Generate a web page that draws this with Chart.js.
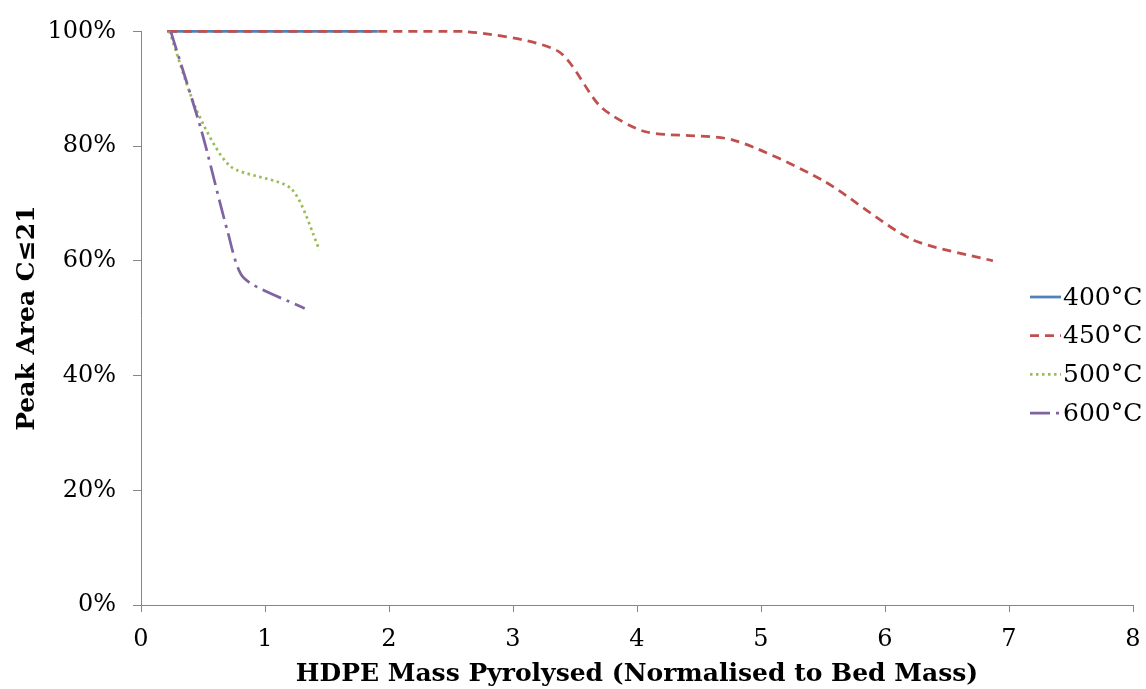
<!DOCTYPE html>
<html>
<head>
<meta charset="utf-8">
<script src="https://cdn.jsdelivr.net/npm/chart.js@4.4.1/dist/chart.umd.min.js"></script>
<style>
html,body{margin:0;padding:0;background:#fff;}
#wrap{width:1146px;height:689px;position:relative;}
</style>
</head>
<body>
<div id="wrap"><canvas id="c" width="1146" height="689"></canvas></div>
<script>
const seriesLabels = ['400°C', '450°C', '500°C', '600°C'];
const x400 = [0.21, 1.91];
const y400 = [1.00, 1.00];
const x450 = [0.22, 1.4, 2.6, 3.36, 3.71, 4.07, 4.77, 5.5, 6.21, 6.87];
const y450 = [1.00, 1.00, 1.00, 0.966, 0.868, 0.825, 0.811, 0.74, 0.638, 0.60];
const x500 = [0.23, 0.45, 0.72, 1.21, 1.44];
const y500 = [1.00, 0.862, 0.765, 0.726, 0.619];
const x600 = [0.24, 0.49, 0.70, 0.83, 1.32];
const y600 = [1.00, 0.825, 0.65, 0.57, 0.517];
const xTicks = [0, 1, 2, 3, 4, 5, 6, 7, 8];
const yTicks = [0, 0.2, 0.4, 0.6, 0.8, 1.0];

const colors = ['#4F81BD', '#C0504D', '#9BBB59', '#8064A2'];
const dashes = [[], [9, 6], [2.5, 3.5], [20, 6, 3, 6]];
const xs = [x400, x450, x500, x600];
const ys = [y400, y450, y500, y600];

const FONT = "'DejaVu Serif', serif";

const datasets = seriesLabels.map((lab, i) => ({
  label: lab,
  data: xs[i].map((x, j) => ({x: x, y: ys[i][j]})),
  borderColor: colors[i],
  backgroundColor: colors[i],
  borderWidth: 2.75,
  borderDash: dashes[i],
  pointRadius: 0,
  pointHoverRadius: 0,
  showLine: true,
  fill: false,
  clip: 6,
  order: 3 - i,
  tension: 0.25,
  borderCapStyle: 'butt'
}));

const legendPlugin = {
  id: 'customLegend',
  afterDraw(chart) {
    const ctx = chart.ctx;
    const startY = 297, step = 38.7;
    chart.data.datasets.forEach((ds, i) => {
      const y = startY + i * step;
      ctx.save();
      ctx.strokeStyle = ds.borderColor;
      ctx.lineWidth = ds.borderWidth;
      ctx.setLineDash(ds.borderDash || []);
      ctx.beginPath();
      ctx.moveTo(1030, y);
      ctx.lineTo(1061, y);
      ctx.stroke();
      ctx.setLineDash([]);
      ctx.fillStyle = '#000';
      ctx.font = "25px " + FONT;
      ctx.textBaseline = 'middle';
      ctx.textAlign = 'left';
      ctx.fillText(ds.label, 1063, y + 1);
      ctx.restore();
    });
  }
};

new Chart(document.getElementById('c'), {
  type: 'scatter',
  data: { datasets: datasets },
  options: {
    responsive: false,
    animation: false,
    events: [],
    layout: { padding: { top: 26, right: 13, left: 0, bottom: 0 } },
    plugins: {
      legend: { display: false },
      tooltip: { enabled: false }
    },
    scales: {
      x: {
        type: 'linear',
        min: 0, max: 8,
        afterBuildTicks: (s) => { s.ticks = xTicks.map(v => ({value: v})); },
        afterFit: (s) => { s.height = 84; s.paddingRight = 8; s.paddingLeft = 0; },
        border: { display: true, color: '#868686', width: 1 },
        grid: { display: true, drawOnChartArea: false, drawTicks: true, tickLength: 7, color: '#868686' },
        ticks: { color: '#000', font: { family: FONT, size: 24 }, padding: 13, maxRotation: 0 },
        title: {
          display: true,
          text: 'HDPE Mass Pyrolysed (Normalised to Bed Mass)',
          color: '#000',
          font: { family: FONT, size: 25, weight: 'bold' },
          padding: { top: 0, bottom: 0 }
        }
      },
      y: {
        type: 'linear',
        min: 0, max: 1,
        afterBuildTicks: (s) => { s.ticks = yTicks.map(v => ({value: v})); },
        afterFit: (s) => { s.width = 141; },
        border: { display: true, color: '#868686', width: 1 },
        grid: { display: true, drawOnChartArea: false, drawTicks: true, tickLength: 8, color: '#868686' },
        ticks: {
          color: '#000', font: { family: FONT, size: 24 }, padding: 17,
          callback: (v) => Math.round(v * 100) + '%'
        },
        title: {
          display: true,
          text: 'Peak Area C≤21',
          color: '#000',
          font: { family: FONT, size: 25, weight: 'bold' },
          padding: { top: 12, bottom: 0 }
        }
      }
    }
  },
  plugins: [legendPlugin]
});
</script>
</body>
</html>
